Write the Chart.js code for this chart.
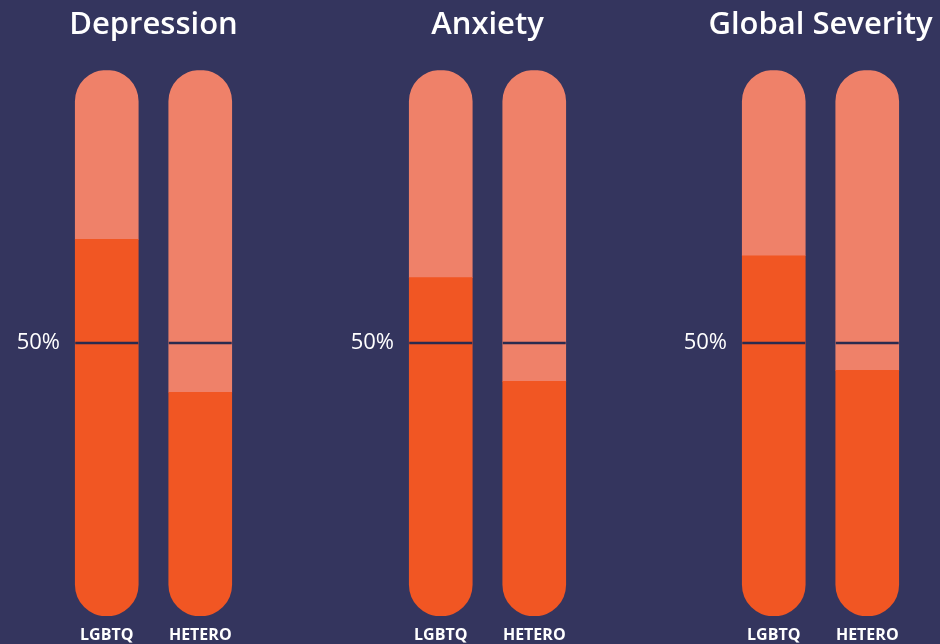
<!DOCTYPE html>
<html>
<head>
<meta charset="utf-8">
<script src="https://cdn.jsdelivr.net/npm/chart.js@4.4.0/dist/chart.umd.min.js"></script>
<style>
  html, body { margin: 0; padding: 0; background: #34355e; overflow: hidden; }
  body { width: 940px; height: 644px; position: relative; }
  .panel { position: absolute; top: 0; width: 307px; height: 644px; }
</style>
</head>
<body>
<div class="panel" style="left:0px"><canvas id="c0" width="307" height="644"></canvas></div>
<div class="panel" style="left:334px"><canvas id="c1" width="307" height="644"></canvas></div>
<div class="panel" style="left:667px"><canvas id="c2" width="307" height="644"></canvas></div>
<script>
// chart values
var panels = ["Depression", "Anxiety", "Global Severity"];
var groups = ["LGBTQ", "HETERO"];
var lgbtq  = [69, 62, 66];
var hetero = [41, 43, 45];
var tickValues = [50];

var darkColor  = "#f15623";
var lightColor = "#ef8169";
var lineColor  = "#2a2b4f";
var fontName = "'Open Sans'";

// line across each bar at the 50% mark
var midLine = {
  id: "midLine",
  afterDatasetsDraw: function (chart) {
    var ctx = chart.ctx;
    var y = chart.scales.y.getPixelForValue(tickValues[0]);
    var bars = chart.getDatasetMeta(0).data;
    ctx.save();
    ctx.strokeStyle = lineColor;
    ctx.lineWidth = 2.5;
    bars.forEach(function (b) {
      ctx.beginPath();
      ctx.moveTo(b.x - b.width / 2, y);
      ctx.lineTo(b.x + b.width / 2, y);
      ctx.stroke();
    });
    ctx.restore();
  }
};

panels.forEach(function (name, i) {
  var vals = [lgbtq[i], hetero[i]];
  var rest = vals.map(function (v) { return 100 - v; });
  new Chart(document.getElementById("c" + i), {
    type: "bar",
    data: {
      labels: groups,
      datasets: [{
        data: vals,
        backgroundColor: darkColor,
        borderSkipped: false,
        borderRadius: {topLeft: 0, topRight: 0, bottomLeft: 32, bottomRight: 32},
        barThickness: 63
      }, {
        data: rest,
        backgroundColor: lightColor,
        borderSkipped: false,
        borderRadius: {topLeft: 32, topRight: 32, bottomLeft: 0, bottomRight: 0},
        barThickness: 63
      }]
    },
    options: {
      responsive: false,
      animation: false,
      layout: {padding: 0},
      plugins: {
        legend: {display: false},
        tooltip: {enabled: false},
        title: {
          display: true,
          text: name,
          color: "#ffffff",
          font: {family: fontName, size: 31, weight: "600"},
          padding: {top: 7, bottom: 26}
        }
      },
      scales: {
        x: {
          stacked: true,
          grid: {display: false, drawTicks: false},
          border: {display: false},
          ticks: {color: "#ffffff", font: {family: fontName, size: 16, weight: "bold"}, padding: 10},
          afterFit: function (s) { s.height = 28; }
        },
        y: {
          stacked: true,
          min: 0,
          max: 100,
          grid: {display: false, drawTicks: false},
          border: {display: false},
          afterBuildTicks: function (s) { s.ticks = tickValues.map(function (v) { return {value: v}; }); },
          ticks: {
            color: "#ffffff",
            font: {family: fontName, size: 22},
            padding: 0,
            callback: function (v) { return v + "%"; }
          },
          afterFit: function (s) { s.width = 60; }
        },
        // empty right axis so the title centres over the bars
        yRight: {
          position: "right",
          grid: {display: false, drawTicks: false},
          border: {display: false},
          ticks: {display: false},
          afterFit: function (s) { s.width = 60; }
        }
      }
    },
    plugins: [midLine]
  });
});
</script>
</body>
</html>
